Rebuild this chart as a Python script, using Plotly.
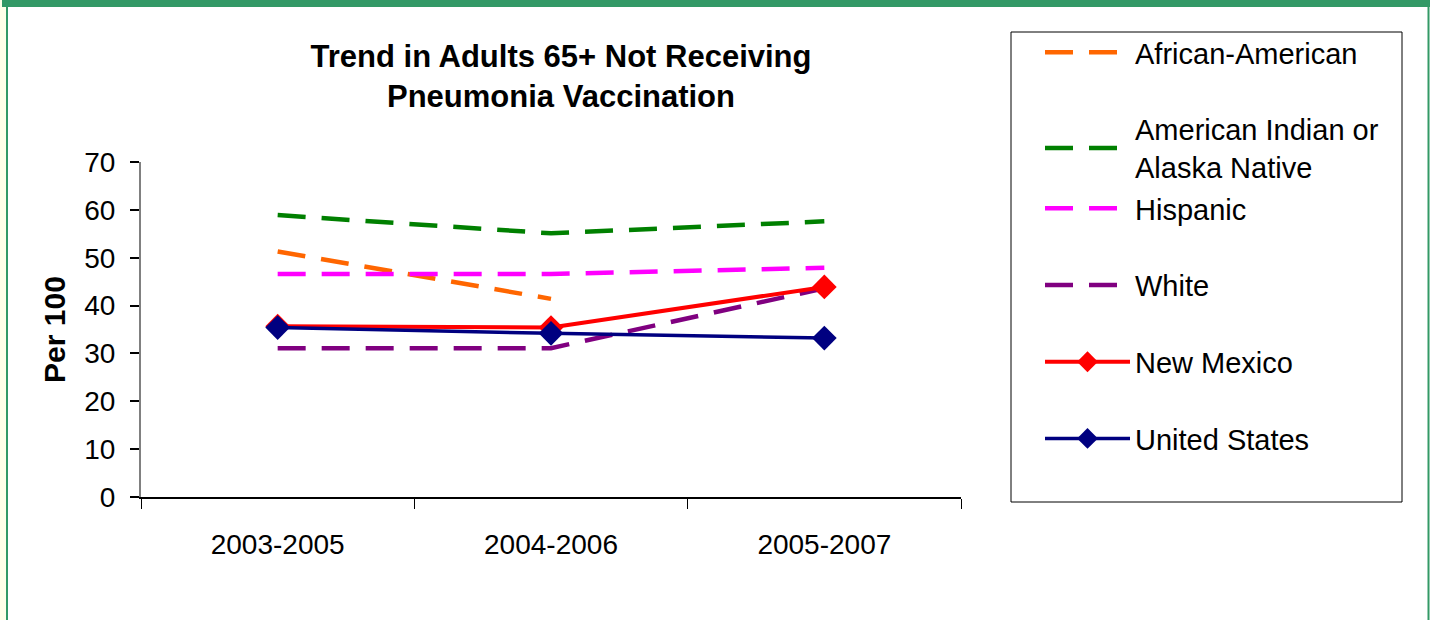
import plotly.graph_objects as go

# ---------------- data ----------------
periods = ["2003-2005", "2004-2006", "2005-2007"]
african_american = [51.3, 41.4, None]
american_indian = [58.9, 55.1, 57.6]
hispanic = [46.6, 46.6, 47.9]
white = [31.1, 31.1, 43.6]
new_mexico = [35.7, 35.4, 43.9]
united_states = [35.4, 34.2, 33.2]
y_ticks = [0, 10, 20, 30, 40, 50, 60, 70]

series_names = ["African-American", "American Indian or<br>Alaska Native",
                "Hispanic", "White", "New Mexico", "United States"]
series_values = [african_american, american_indian, hispanic, white,
                 new_mexico, united_states]
series_colors = ["#FF6600", "#008000", "#FF00FF", "#800080", "#FF0000", "#000080"]
series_dashed = [True, True, True, True, False, False]
series_legend = ["legend", "legend", "legend2", "legend2", "legend2", "legend2"]

# ---------------- layout geometry (pixels) ----------------
W, H = 1430, 620
PL, PR, PT, PB = 141, 961, 162, 497   # plot area


def px(p):
    return (p - PL) / (PR - PL)


def py(p):
    return (PB - p) / (PB - PT)


FONT = "Liberation Sans, Arial, sans-serif"
GREEN = "#339966"

fig = go.Figure()
for name, vals, col, dashed, leg in zip(series_names, series_values, series_colors,
                                        series_dashed, series_legend):
    if dashed:
        fig.add_trace(go.Scatter(
            x=periods, y=vals, name=name, mode="lines", legendgroup=name, legend=leg,
            line=dict(color=col, width=4.5, dash="28px,16px"),
            connectgaps=False))
    else:
        fig.add_trace(go.Scatter(
            x=periods, y=vals, name=name, mode="lines+markers", legendgroup=name, legend=leg,
            line=dict(color=col, width=4 if col == "#FF0000" else 3.5),
            marker=dict(symbol="diamond", size=19, color=col)))

shapes = [
    # light strip at left edge
    dict(type="rect", xref="paper", yref="paper", x0=px(0), x1=px(6), y0=py(620), y1=py(0),
         fillcolor="#FFFFE8", line=dict(width=0), layer="below"),
    # green frame
    dict(type="rect", xref="paper", yref="paper", x0=px(2), x1=px(1430), y0=py(7), y1=py(0),
         fillcolor=GREEN, line=dict(width=0), layer="below"),
    dict(type="rect", xref="paper", yref="paper", x0=px(6), x1=px(8), y0=py(620), y1=py(0),
         fillcolor=GREEN, line=dict(width=0), layer="below"),
    dict(type="rect", xref="paper", yref="paper", x0=px(1427.5), x1=px(1429.5), y0=py(620), y1=py(0),
         fillcolor=GREEN, line=dict(width=0), layer="below"),
    # legend box
    dict(type="rect", xref="paper", yref="paper", x0=px(1011), x1=px(1402), y0=py(502), y1=py(32),
         fillcolor="rgba(0,0,0,0)", line=dict(color="black", width=1), layer="below"),
]

legend_common = dict(
    xanchor="left", yanchor="top", bgcolor="rgba(0,0,0,0)", borderwidth=0,
    font=dict(family=FONT, size=29, color="black"), itemwidth=85,
    tracegroupgap=36, itemclick=False, itemdoubleclick=False,
)

fig.update_layout(
    width=W, height=H,
    margin=dict(l=PL, r=W - PR, t=PT, b=H - PB, autoexpand=False),
    paper_bgcolor="white", plot_bgcolor="white",
    font=dict(family=FONT, color="black"),
    title=dict(
        text="Trend in Adults 65+ Not Receiving<br>Pneumonia Vaccination",
        x=561 / W, xanchor="center", xref="container",
        y=1 - 67 / H, yanchor="top", yref="container",
        font=dict(family=FONT, size=31, color="black", weight="bold"),
    ),
    xaxis=dict(
        type="category", range=[-0.5, 2.5], showgrid=False, zeroline=False,
        showline=True, linecolor="black", linewidth=1.5,
        ticks="outside", tickson="boundaries", ticklen=10, tickcolor="black", tickwidth=1,
        tickfont=dict(family=FONT, size=28, color="black"), ticklabelstandoff=22,
    ),
    yaxis=dict(
        range=[0, 70], tickvals=y_ticks, showgrid=False, zeroline=False,
        showline=True, linecolor="#808080", linewidth=2,
        ticks="outside", ticklen=9, tickcolor="black", tickwidth=1.5,
        tickfont=dict(family=FONT, size=28, color="black"), ticklabelstandoff=9,
        title=dict(text="<b>Per 100</b>", font=dict(family=FONT, size=30, color="black"),
                   standoff=10),
    ),
    legend=dict(x=px(1040), y=py(27), **legend_common),
    legend2=dict(x=px(1040), y=py(183), **legend_common),
    shapes=shapes,
    showlegend=True,
)

fig.write_html("out.html", config={"displayModeBar": False},
               post_script="document.body.style.margin='0px';")
